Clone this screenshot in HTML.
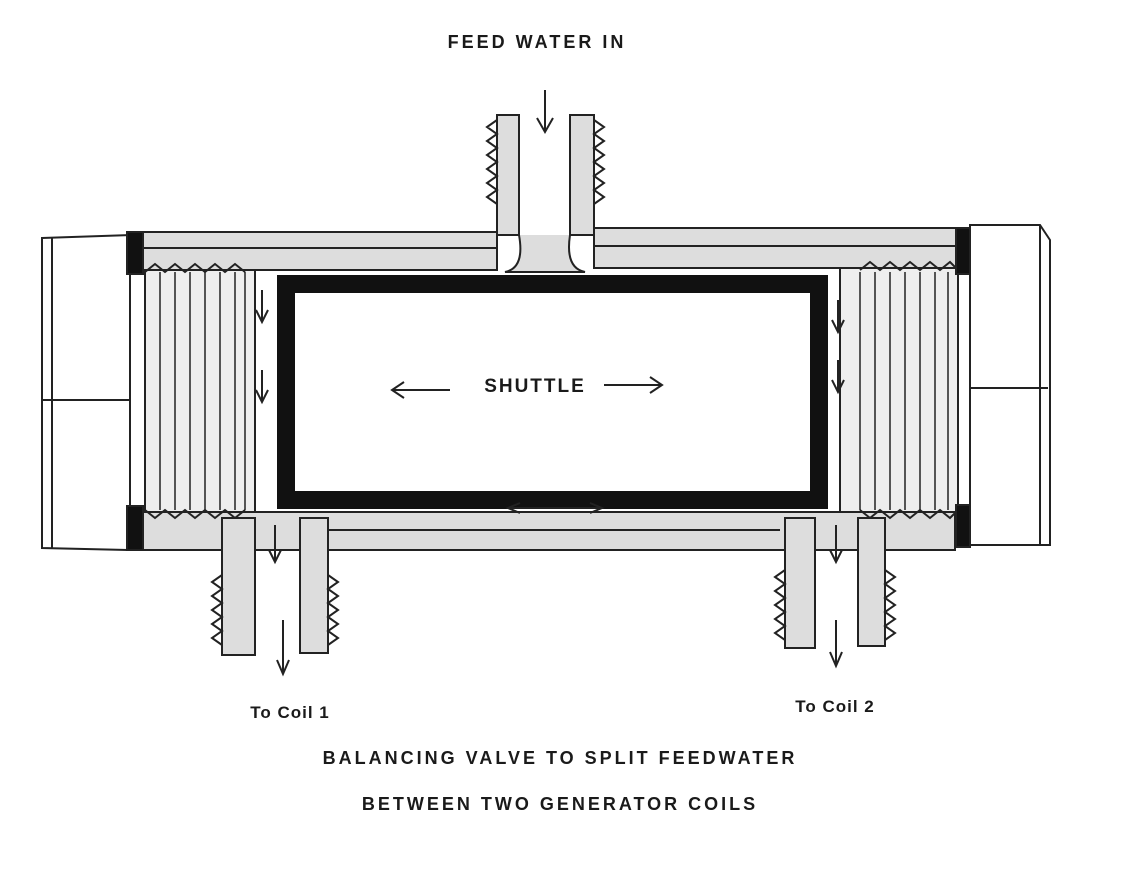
<!DOCTYPE html>
<html><head><meta charset="utf-8"><style>
html,body{margin:0;padding:0;background:#fff;}
svg{display:block;}
text{font-family:"Liberation Sans",sans-serif;fill:#1a1a1a;font-weight:600;}
</style></head><body>
<svg width="1131" height="869" viewBox="0 0 1131 869" xmlns="http://www.w3.org/2000/svg">
<rect width="1131" height="869" fill="#fff"/>
<g stroke="#222" stroke-width="2" fill="none">
<rect x="497" y="115" width="22" height="120" fill="#ddd"/>
<rect x="570" y="115" width="24" height="120" fill="#ddd"/>
<polyline points="497,120 487,127 497,134 487,141 497,148 487,155 497,162 487,169 497,176 487,183 497,190 487,197 497,204"/>
<polyline points="594,120 604,127 594,134 604,141 594,148 604,155 594,162 604,169 594,176 604,183 594,190 604,197 594,204"/>
<path d="M519,235 Q525,268 505,272 L585,272 Q565,268 570,235" fill="#ddd"/>
<line x1="545" y1="90" x2="545" y2="130"/><polyline points="537,118 545,132 553,118"/>
<rect x="135" y="232" width="362" height="38" fill="#ddd"/>
<rect x="594" y="228" width="370" height="40" fill="#ddd"/>
<line x1="135" y1="248" x2="497" y2="248"/><line x1="594" y1="246" x2="964" y2="246"/>
<rect x="135" y="512" width="820" height="38" fill="#ddd"/>
<line x1="300" y1="530" x2="780" y2="530"/>
<path d="M42,238 L130,235 L130,550 L42,548 Z" fill="#fff"/>
<line x1="42" y1="400" x2="130" y2="400"/><line x1="52" y1="238" x2="52" y2="548"/>
<path d="M970,225 L1040,225 L1050,240 L1050,545 L970,545 Z" fill="#fff"/>
<line x1="970" y1="388" x2="1048" y2="388"/><line x1="1040" y1="225" x2="1040" y2="545"/>
<rect x="145" y="270" width="110" height="242" fill="#eee"/>
<g stroke-width="1.5"><line x1="160" y1="272" x2="160" y2="510"/><line x1="175" y1="272" x2="175" y2="510"/><line x1="190" y1="272" x2="190" y2="510"/><line x1="205" y1="272" x2="205" y2="510"/><line x1="220" y1="272" x2="220" y2="510"/><line x1="235" y1="272" x2="235" y2="510"/><line x1="245" y1="272" x2="245" y2="510"/></g>
<polyline points="145,272 155,264 165,272 175,264 185,272 195,264 205,272 215,264 225,272 235,264 245,272"/>
<polyline points="145,510 155,518 165,510 175,518 185,510 195,518 205,510 215,518 225,510 235,518 245,510"/>
<rect x="840" y="268" width="118" height="244" fill="#eee"/>
<g stroke-width="1.5"><line x1="860" y1="272" x2="860" y2="510"/><line x1="875" y1="272" x2="875" y2="510"/><line x1="890" y1="272" x2="890" y2="510"/><line x1="905" y1="272" x2="905" y2="510"/><line x1="920" y1="272" x2="920" y2="510"/><line x1="935" y1="272" x2="935" y2="510"/><line x1="948" y1="272" x2="948" y2="510"/></g>
<polyline points="860,270 870,262 880,270 890,262 900,270 910,262 920,270 930,262 940,270 950,262 958,270"/>
<polyline points="860,510 870,518 880,510 890,518 900,510 910,518 920,510 930,518 940,510 950,518 958,510"/>
<rect x="127" y="232" width="16" height="42" fill="#111"/>
<rect x="127" y="506" width="16" height="44" fill="#111"/>
<rect x="956" y="228" width="14" height="46" fill="#111"/>
<rect x="956" y="505" width="14" height="42" fill="#111"/>
<rect x="286" y="284" width="533" height="216" fill="#fff" stroke="#111" stroke-width="18"/>
<line x1="262" y1="290" x2="262" y2="320"/><polyline points="256,310 262,322 268,310"/>
<line x1="262" y1="370" x2="262" y2="400"/><polyline points="256,390 262,402 268,390"/>
<line x1="838" y1="300" x2="838" y2="330"/><polyline points="832,320 838,332 844,320"/>
<line x1="838" y1="360" x2="838" y2="390"/><polyline points="832,380 838,392 844,380"/>
<line x1="510" y1="508" x2="600" y2="508"/><polyline points="520,503 508,508 520,513"/><polyline points="590,503 602,508 590,513"/>
<rect x="222" y="518" width="33" height="137" fill="#ddd"/>
<rect x="300" y="518" width="28" height="135" fill="#ddd"/>
<polyline points="222,575 212,582 222,589 212,596 222,603 212,610 222,617 212,624 222,631 212,638 222,645"/>
<polyline points="328,575 338,582 328,589 338,596 328,603 338,610 328,617 338,624 328,631 338,638 328,645"/>
<line x1="283" y1="620" x2="283" y2="672"/><polyline points="277,660 283,674 289,660"/>
<line x1="275" y1="525" x2="275" y2="560"/><polyline points="269,550 275,562 281,550"/>
<rect x="785" y="518" width="30" height="130" fill="#ddd"/>
<rect x="858" y="518" width="27" height="128" fill="#ddd"/>
<polyline points="785,570 775,577 785,584 775,591 785,598 775,605 785,612 775,619 785,626 775,633 785,640"/>
<polyline points="885,570 895,577 885,584 895,591 885,598 895,605 885,612 895,619 885,626 895,633 885,640"/>
<line x1="836" y1="620" x2="836" y2="664"/><polyline points="830,652 836,666 842,652"/>
<line x1="836" y1="525" x2="836" y2="560"/><polyline points="830,550 836,562 842,550"/>
<line x1="392" y1="390" x2="450" y2="390"/><polyline points="404,382 392,390 404,398"/>
<line x1="604" y1="385" x2="662" y2="385"/><polyline points="650,377 662,385 650,393"/>
</g>
<text x="537" y="48" font-size="18" text-anchor="middle" letter-spacing="3">FEED WATER IN</text>
<text x="535" y="392" font-size="19" text-anchor="middle" letter-spacing="2">SHUTTLE</text>
<text x="290" y="718" font-size="17" text-anchor="middle" letter-spacing="1">To Coil 1</text>
<text x="835" y="712" font-size="17" text-anchor="middle" letter-spacing="1">To Coil 2</text>
<text x="560" y="764" font-size="18" text-anchor="middle" letter-spacing="3">BALANCING  VALVE  TO  SPLIT FEEDWATER</text>
<text x="560" y="810" font-size="18" text-anchor="middle" letter-spacing="3">BETWEEN  TWO  GENERATOR  COILS</text>
</svg>
</body></html>
